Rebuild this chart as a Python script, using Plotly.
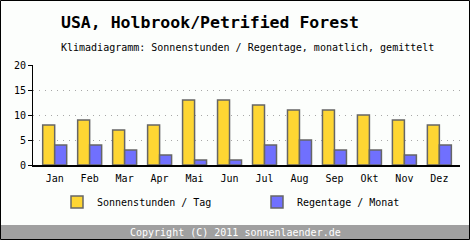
import plotly.graph_objects as go

months = ["Jan", "Feb", "Mar", "Apr", "Mai", "Jun", "Jul", "Aug", "Sep", "Okt", "Nov", "Dez"]
sun_hours = [8, 9, 7, 8, 13, 13, 12, 11, 11, 10, 9, 8]
rain_days = [4, 4, 3, 2, 1, 1, 4, 5, 3, 3, 2, 4]
y_ticks = [0, 5, 10, 15, 20]

FONT = "DejaVu Sans Mono"
W, H = 470, 240
L, R, T, B = 33, 10, 65, 75
PW, PH = W - L - R, H - T - B


def px(x):
    return (x - L) / PW


def py(y):
    return (H - B - y) / PH


fig = go.Figure()
fig.add_trace(go.Bar(x=months, y=sun_hours, name="Sonnenstunden / Tag",
                     marker=dict(color="#fed633", line=dict(color="#666666", width=1.5))))
fig.add_trace(go.Bar(x=months, y=rain_days, name="Regentage / Monat",
                     marker=dict(color="#7070fe", line=dict(color="#666666", width=1.5))))

fig.update_layout(
    width=W, height=H,
    margin=dict(l=L, r=R, t=T, b=B, autoexpand=False),
    paper_bgcolor="#fcfefc",
    plot_bgcolor="#fcfefc",
    barmode="group",
    bargap=0.314,
    bargroupgap=0,
    font=dict(family=FONT, size=10, color="#000000"),
    showlegend=True,
    legend=dict(orientation="h", x=px(57), y=py(202), yanchor="middle", xanchor="left",
                entrywidth=155, entrywidthmode="pixels", bgcolor="rgba(0,0,0,0)",
                font=dict(family=FONT, size=10), itemclick=False),
    xaxis=dict(type="category", range=[-0.62, 11.59], showline=True, linecolor="#000000",
               linewidth=1.5, ticks="", showgrid=False, tickfont=dict(family=FONT, size=10),
               ticklabelstandoff=3, fixedrange=True),
    yaxis=dict(range=[0, 20], tickvals=y_ticks, showline=True, linecolor="#000000", linewidth=1,
               ticks="outside", ticklen=4, tickcolor="#000000", showgrid=True,
               gridcolor="#a8a8a8", griddash="1px,5px", gridwidth=1, zeroline=False,
               tickfont=dict(family=FONT, size=10), fixedrange=True),
)

# footer band
fig.add_shape(type="rect", xref="paper", yref="paper", x0=px(0.5), x1=px(469.5), y0=py(239.5), y1=py(225),
              fillcolor="#a0a0a0", line=dict(width=0), layer="above")
# outer border
fig.add_shape(type="rect", xref="paper", yref="paper", x0=px(0.5), x1=px(469.5), y0=py(239.5), y1=py(0.5),
              fillcolor="rgba(0,0,0,0)", line=dict(color="#000000", width=1), layer="above")

fig.add_annotation(text="<b>USA, Holbrook/Petrified Forest</b>", xref="paper", yref="paper",
                   x=px(59), y=py(22), xanchor="left", yanchor="middle", showarrow=False,
                   font=dict(family=FONT, size=16.5, color="#000000"))
fig.add_annotation(text="Klimadiagramm: Sonnenstunden / Regentage, monatlich, gemittelt", xref="paper", yref="paper",
                   x=px(59), y=py(47), xanchor="left", yanchor="middle", showarrow=False,
                   font=dict(family=FONT, size=10, color="#000000"))
fig.add_annotation(text="Copyright (C) 2011 sonnenlaender.de", xref="paper", yref="paper",
                   x=px(235), y=py(232), xanchor="center", yanchor="middle", showarrow=False,
                   font=dict(family=FONT, size=10, color="#ffffff"))

fig.write_html("out.html", config={"displayModeBar": False})
